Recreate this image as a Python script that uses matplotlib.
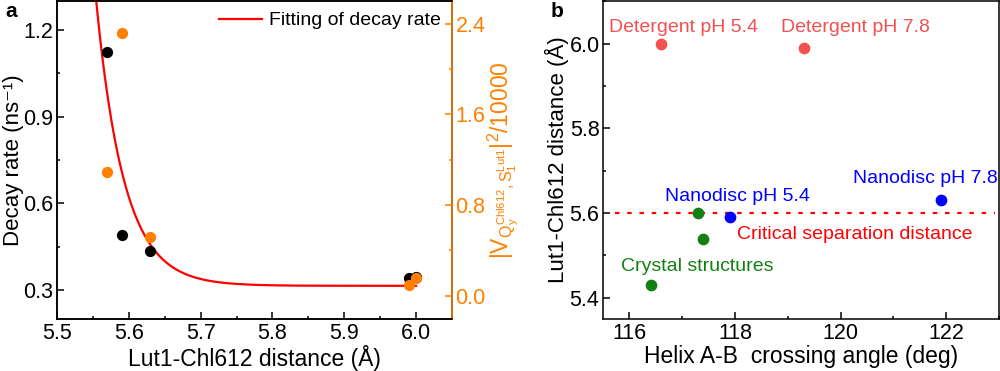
import numpy as np
import matplotlib
matplotlib.use("Agg")
import matplotlib.pyplot as plt
from matplotlib.ticker import MultipleLocator

plt.rcParams['font.family'] = ['Liberation Sans', 'DejaVu Sans']
plt.rcParams['mathtext.fontset'] = 'custom'
plt.rcParams['mathtext.rm'] = 'Liberation Sans'
plt.rcParams['mathtext.it'] = 'Liberation Sans:italic'

# panel a data
dist = [5.57, 5.59, 5.63, 5.99, 6.00]
decay_rate = [1.123, 0.492, 0.437, 0.342, 0.346]
coupling = [1.09, 2.32, 0.52, 0.094, 0.16]
# exponential fit y = y0 + A*exp(-(x-x0)/t)
fit_y0 = 0.315
fit_A = 0.985
fit_x0 = 5.5546
fit_t = 0.039

# panel b data
det_angle = [116.6, 119.3]
det_dist = [6.0, 5.989]
nano_angle = [117.9, 121.9]
nano_dist = [5.59, 5.63]
cryst_angle = [117.3, 117.4, 116.4]
cryst_dist = [5.60, 5.54, 5.43]
critical = 5.6

orange = '#FF8000'
red_pt = '#F55050'
green = '#138013'

fig = plt.figure(figsize=(10, 3.71), dpi=100)
ax = fig.add_axes([0.057, 0.140, 0.395, 0.857])
ax2 = ax.twinx()
bx = fig.add_axes([0.603, 0.140, 0.396, 0.857])

def style(a):
    a.tick_params(which='both', direction='in', labelsize=15.5, width=1.1)
    a.tick_params(which='major', length=5, pad=2.5)
    a.tick_params(which='minor', length=2.5)
    for s in a.spines.values():
        s.set_linewidth(1.1)

# ---- panel a
xf = np.linspace(fit_x0, 6.0, 300)
ax.plot(xf, fit_y0 + fit_A*np.exp(-(xf-fit_x0)/fit_t), color='red', lw=1.6,
        label='Fitting of decay rate', zorder=2)
ax.scatter(dist, decay_rate, s=50, color='black', zorder=3)
ax2.scatter(dist, coupling, s=50, color=orange, zorder=3)
ax.set_xlim(5.5, 6.05)
ax.set_ylim(0.2, 1.3)
ax2.set_ylim(-0.205, 2.6)
ax.xaxis.set_major_locator(MultipleLocator(0.1))
ax.xaxis.set_minor_locator(MultipleLocator(0.05))
ax.yaxis.set_major_locator(MultipleLocator(0.3))
ax.yaxis.set_minor_locator(MultipleLocator(0.15))
ax2.yaxis.set_major_locator(MultipleLocator(0.8))
ax2.yaxis.set_minor_locator(MultipleLocator(0.4))
ax.xaxis.set_major_formatter(plt.FormatStrFormatter('%.1f'))
ax.yaxis.set_major_formatter(plt.FormatStrFormatter('%.1f'))
ax2.yaxis.set_major_formatter(plt.FormatStrFormatter('%.1f'))
style(ax)
style(ax2)
ax2.spines['right'].set_color(orange)
ax2.tick_params(axis='y', which='both', colors=orange)
ax.set_xlabel('Lut1-Chl612 distance (Å)', fontsize=16.5, labelpad=1)
ax.set_ylabel('Decay rate (ns\u207b\u00b9)', fontsize=16)
ax.yaxis.set_label_coords(-0.083, 0.5)
ax2.set_ylabel(r'$|\mathrm{V}_{\mathrm{Q}_\mathrm{y}^\mathrm{Chl612},\mathrm{S}_1^\mathrm{Lut1}}|^2$/10000',
               fontsize=16.5, color=orange)
ax2.yaxis.set_label_coords(1.086, 0.5)
ax.legend(loc='upper right', frameon=False, fontsize=14, handlelength=2.2,
          borderaxespad=0.15, handletextpad=0.4)
fig.text(0.005, 0.955, 'a', fontsize=15, fontweight='bold')

# ---- panel b
bx.axhline(critical, xmin=0.03, xmax=0.99, color='red', lw=1.6, ls=(0, (2, 3.5)), zorder=1)
bx.scatter(det_angle, det_dist, s=55, color=red_pt, zorder=3)
bx.scatter(nano_angle, nano_dist, s=55, color='blue', zorder=3)
bx.scatter(cryst_angle, cryst_dist, s=55, color=green, zorder=3)
bx.set_xlim(115.5, 123)
bx.set_ylim(5.35, 6.1)
bx.xaxis.set_major_locator(MultipleLocator(2))
bx.xaxis.set_minor_locator(MultipleLocator(1))
bx.yaxis.set_major_locator(MultipleLocator(0.2))
bx.yaxis.set_minor_locator(MultipleLocator(0.1))
bx.yaxis.set_major_formatter(plt.FormatStrFormatter('%.1f'))
style(bx)
bx.set_xlabel('Helix A-B  crossing angle (deg)', fontsize=16.5, labelpad=1)
bx.set_ylabel('Lut1-Chl612 distance (Å)', fontsize=16)
bx.yaxis.set_label_coords(-0.085, 0.5)
kw = dict(fontsize=14, va='center', ha='left')
bx.text(115.61, 6.038, 'Detergent pH 5.4', color=red_pt, **kw)
bx.text(118.88, 6.038, 'Detergent pH 7.8', color=red_pt, **kw)
bx.text(116.67, 5.64, 'Nanodisc pH 5.4', color='blue', **kw)
bx.text(120.23, 5.682, 'Nanodisc pH 7.8', color='blue', **kw)
bx.text(118.03, 5.549, 'Critical separation distance', color='red', **kw)
bx.text(115.84, 5.473, 'Crystal structures', color=green, **kw)
fig.text(0.551, 0.955, 'b', fontsize=15, fontweight='bold')

fig.savefig('out.png', dpi=100)
